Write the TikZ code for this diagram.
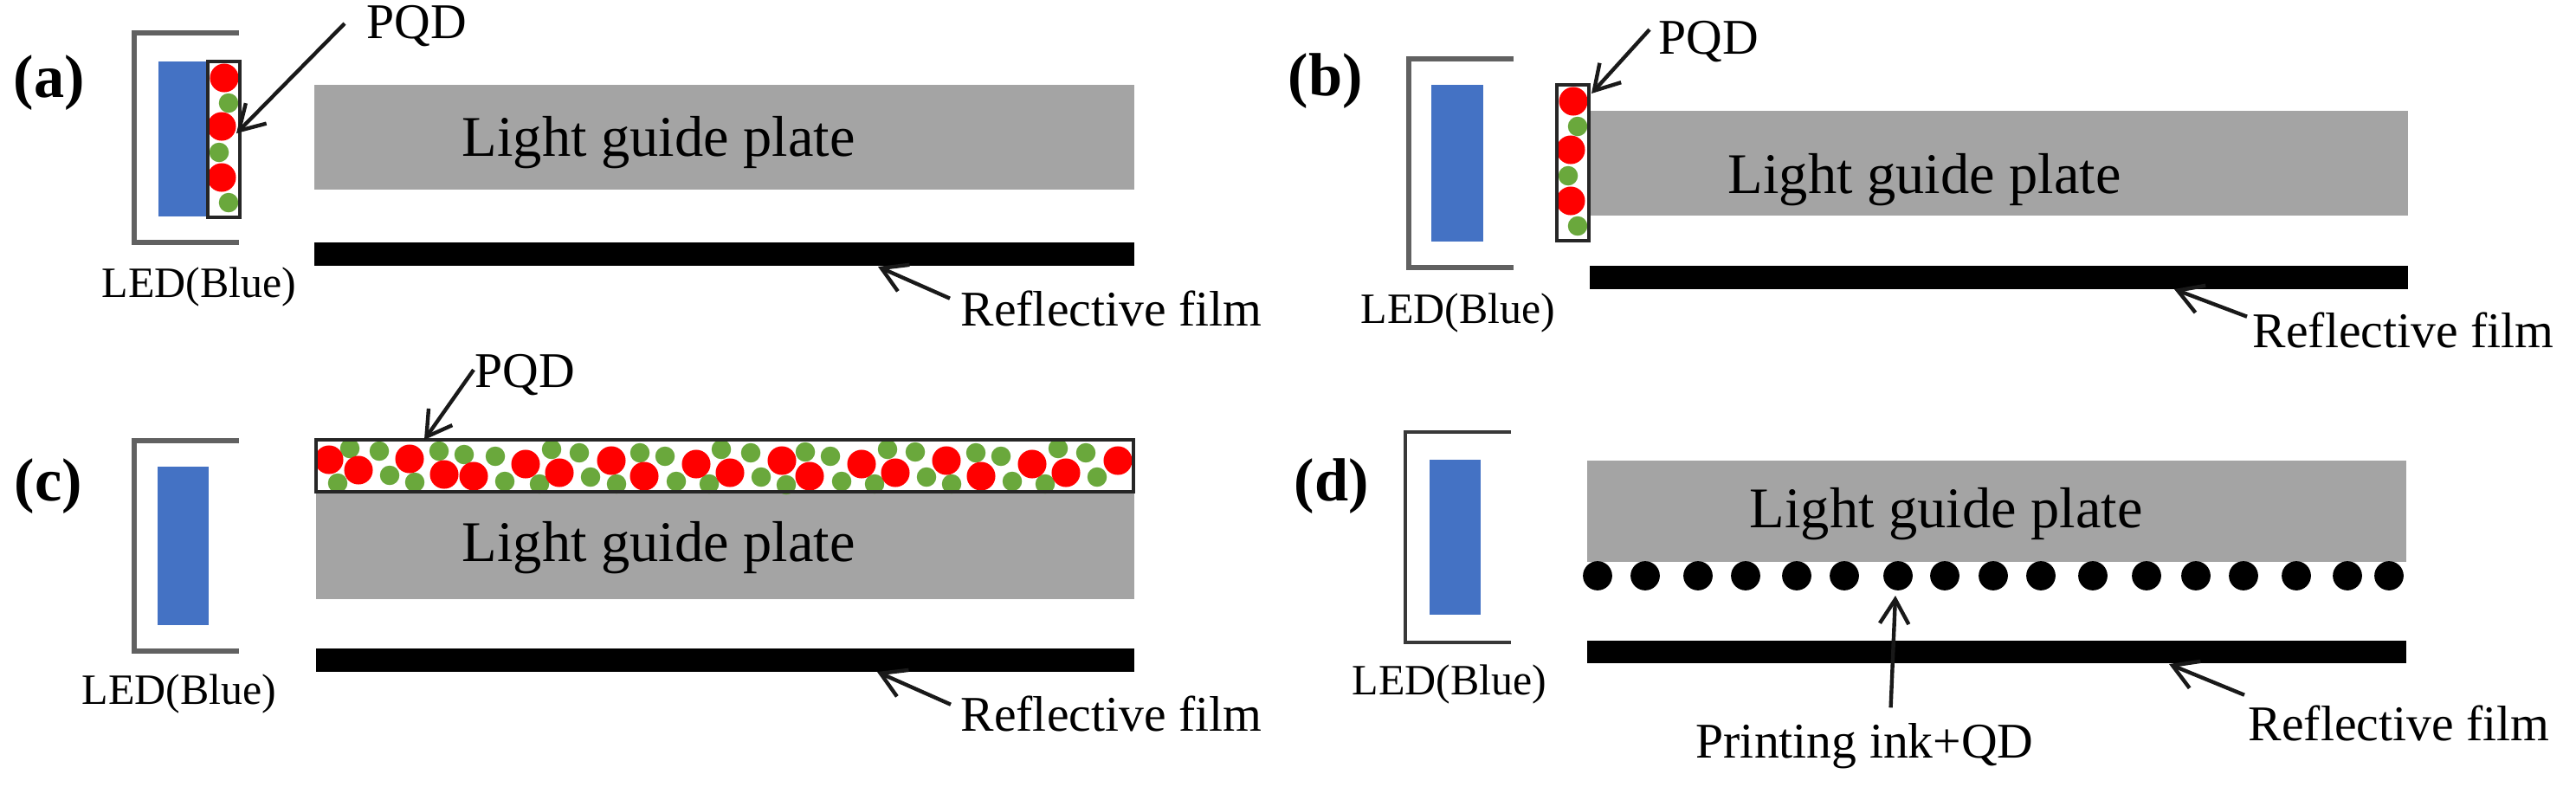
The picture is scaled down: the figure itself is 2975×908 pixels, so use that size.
\documentclass[tikz,border=0pt]{standalone}
\usepackage{fontspec}
\setmainfont{Liberation Serif}
\usetikzlibrary{arrows.meta}
\definecolor{ledblue}{HTML}{4472C4}
\definecolor{plategray}{HTML}{A4A4A4}
\definecolor{qdgreen}{HTML}{6AA83C}
\tikzset{
    lbl/.style={anchor=base west,inner sep=0pt,font=\fontsize{16.4}{20}\selectfont},
    ledlbl/.style={anchor=base west,inner sep=0pt,font=\fontsize{14.2}{17}\selectfont},
    platelbl/.style={anchor=base west,inner sep=0pt,font=\fontsize{18.9}{23}\selectfont},
    panellbl/.style={anchor=base west,inner sep=0pt,font=\fontsize{20}{24}\selectfont\bfseries},
    plate/.style={fill=plategray},
    film/.style={fill=black},
    led/.style={fill=ledblue},
    cup/.style={draw=black!62,line width=1.5pt},
    qdbox/.style={draw=black!85,line width=1pt},
    redqd/.style={shape=circle,fill=red,inner sep=0pt,minimum size=9.4pt},
    greenqd/.style={shape=circle,fill=qdgreen,inner sep=0pt,minimum size=6.4pt},
    inkdot/.style={shape=circle,fill=black,inner sep=0pt,minimum size=9.6pt},
    ptr/.style={draw=black!90,line width=1.25pt,-{Straight Barb[length=8pt,width=9.5pt,line width=1.25pt]}}
}
\begin{document}
\begin{tikzpicture}[x=0.01cm,y=-0.01cm]
    \useasboundingbox (0,0) rectangle (2975,908);

    \draw[cup] (276,38)--(155,38)--(155,280)--(276,280);
    \draw[cup] (1748,68)--(1627,68)--(1627,309)--(1748,309);
    \draw[cup] (276,509)--(155,509)--(155,752)--(276,752);
    \draw[cup,draw=black!78,line width=1.1pt] (1745,499)--(1623,499)--(1623,742)--(1745,742);

    \fill[led] (183,71) rectangle (240,250);
    \fill[led] (1653,98) rectangle (1713,279);
    \fill[led] (182,539) rectangle (241,722);
    \fill[led] (1651,531) rectangle (1710,710);

    \fill[plate] (363,98) rectangle (1310,219);
    \fill[plate] (1836,128) rectangle (2781,249);
    \fill[plate] (365,568) rectangle (1310,692);
    \fill[plate] (1833,532) rectangle (2779,649);

    \fill[film] (363,280) rectangle (1310,307);
    \fill[film] (1836,307) rectangle (2781,334);
    \fill[film] (365,749) rectangle (1310,776);
    \fill[film] (1833,740) rectangle (2779,766);

    \foreach \px/\py/\tag in {240/71/a,1798/98/b} {
        \foreach \dx/\dy [count=\k] in {19/19,16/75,16/134}
            \node (red\tag\k) at (\px+\dx,\py+\dy) [redqd] {};
        \foreach \dx/\dy [count=\k] in {24/48,13/105,24/163}
            \node (green\tag\k) at (\px+\dx,\py+\dy) [greenqd] {};
        \draw[qdbox] (\px,\py) rectangle (\px+37,\py+180);
    }

    \foreach \x/\y [count=\k] in {404/518,438/521,390/558,450/549,507/521,479/557,536/525,572/527,583/556,623/559,637/519,669/523,682/551,712/559,739/523,768/527,781/556,819/559,833/519,867/523,879/551,908/560,930/522,959/527,972/556,1010/559,1025/519,1057/522,1070/551,1099/559,1127/523,1156/527,1169/556,1207/559,1222/518,1254/523,1267/551}
        \node (greenc\k) at (\x,\y) [greenqd] {};
    \foreach \x/\y [count=\k] in {380/531,414/543,473/530,513/548,547/550,607/536,646/546,706/532,744/550,804/536,843/546,903/532,935/550,995/536,1034/546,1093/532,1133/550,1192/536,1231/546,1291/532}
        \node (redc\k) at (\x,\y) [redqd] {};
    \draw[qdbox] (365,508) rectangle (1309,568);

    \foreach \x [count=\k] in {1845,1900,1961,2016,2075,2130,2192,2246,2302,2357,2417,2479,2536,2591,2652,2711,2759}
        \node (ink\k) at (\x,665) [inkdot] {};

    \node (panelA) at (15,112) [panellbl] {(a)};
    \node (panelB) at (1487,110) [panellbl] {(b)};
    \node (panelC) at (16,578) [panellbl] {(c)};
    \node (panelD) at (1494,578) [panellbl] {(d)};

    \node (plateA) at (533,180) [platelbl] {Light guide plate};
    \node (plateB) at (1995,223) [platelbl] {Light guide plate};
    \node (plateC) at (533,648) [platelbl] {Light guide plate};
    \node (plateD) at (2020,609) [platelbl] {Light guide plate};

    \node (ledA) at (117,343) [ledlbl] {LED(Blue)};
    \node (ledB) at (1571,373) [ledlbl] {LED(Blue)};
    \node (ledC) at (94,813) [ledlbl] {LED(Blue)};
    \node (ledD) at (1561,802) [ledlbl] {LED(Blue)};

    \node (pqdA) at (423,44) [lbl] {PQD};
    \node (pqdB) at (1915,62) [lbl] {PQD};
    \node (pqdC) at (548,447) [lbl] {PQD};
    \node (filmA) at (1109,376) [lbl] {Reflective film};
    \node (filmB) at (2601,401) [lbl] {Reflective film};
    \node (filmC) at (1109,844) [lbl] {Reflective film};
    \node (filmD) at (2596,855) [lbl] {Reflective film};
    \node (inkLbl) at (1958,875) [lbl] {Printing ink+QD};

    \coordinate (tipPqdA) at (273,154);
    \coordinate (tipPqdB) at (1838,108);
    \coordinate (tipPqdC) at (490,508);
    \coordinate (tipFilmA) at (1014,308);
    \coordinate (tipFilmB) at (2511,334);
    \coordinate (tipFilmC) at (1013,776);
    \coordinate (tipFilmD) at (2505,767);
    \coordinate (tipInk) at (2189,688);

    \draw[ptr] ([shift={(-25,22)}]pqdA.north west)--(tipPqdA);
    \draw[ptr] ([shift={(-10,11)}]pqdB.north west)--(tipPqdB);
    \draw[ptr] ([shift={(-1,19)}]pqdC.north west)--(tipPqdC);
    \draw[ptr] ([shift={(-12,10)}]filmA.north west)--(tipFilmA);
    \draw[ptr] ([shift={(-6,6)}]filmB.north west)--(tipFilmB);
    \draw[ptr] ([shift={(-11,11)}]filmC.north west)--(tipFilmC);
    \draw[ptr] ([shift={(-4,-11)}]filmD.north west)--(tipFilmD);
    \draw[ptr] ([shift={(30,-17)}]inkLbl.north)--(tipInk);
\end{tikzpicture}
\end{document}
